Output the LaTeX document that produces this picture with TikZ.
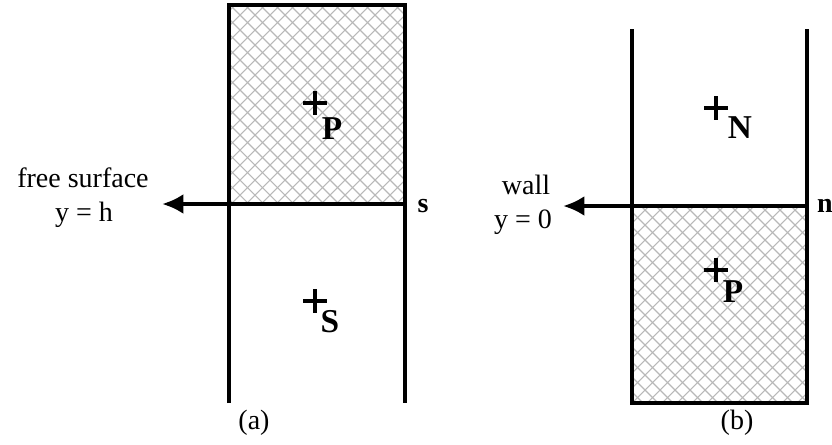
\documentclass[tikz,border=0pt]{standalone}
\usepackage{fontspec}
\setmainfont{Liberation Serif}
\usetikzlibrary{arrows.meta}

\begin{document}
\begin{tikzpicture}[
    x=0.75pt,
    y=-0.75pt,
    line join=miter
]

\definecolor{HatchGray}{HTML}{B8B8B8}

\tikzset{
    wall line/.style={
        draw=black,
        line width=3pt
    },
    axis arrow/.style={
        draw=black,
        line width=3.6pt,
        -{Latex[length=16pt,width=15pt]}
    },
    hatch line/.style={
        draw=HatchGray,
        line width=0.8pt
    },
    cross line/.style={
        draw=black,
        line width=3pt
    },
    cell name/.style={
        font=\fontsize{25}{25}\selectfont\bfseries,
        inner sep=0pt
    },
    face name/.style={
        font=\fontsize{21}{21}\selectfont\bfseries,
        inner sep=0pt
    },
    side label/.style={
        font=\fontsize{21}{21}\selectfont,
        inner sep=0pt
    }
}

\useasboundingbox (0,0) rectangle (832,444);

% corners of the two cells
\coordinate (a-tl) at (229,5);
\coordinate (a-tr) at (405,5);
\coordinate (a-ml) at (229,204);
\coordinate (a-mr) at (405,204);
\coordinate (a-bl) at (229,403);
\coordinate (a-br) at (405,403);
\coordinate (a-tip) at (162,204);

\coordinate (b-tl) at (632,29);
\coordinate (b-tr) at (807,29);
\coordinate (b-ml) at (632,206);
\coordinate (b-mr) at (807,206);
\coordinate (b-bl) at (632,403);
\coordinate (b-br) at (807,403);
\coordinate (b-tip) at (563,206);

% hatched halves
\begin{scope}
    \clip (a-tl) rectangle (a-mr);
    \foreach \k in {0,15,...,1215} {
        \draw[hatch line] (\k,0) -- ++(450,450);
        \draw[hatch line] (\k,0) -- ++(-450,450);
    }
\end{scope}
\begin{scope}
    \clip (b-ml) rectangle (b-br);
    \foreach \k in {0,15,...,1215} {
        \draw[hatch line] (\k,0) -- ++(450,450);
        \draw[hatch line] (\k,0) -- ++(-450,450);
    }
\end{scope}

% walls
\draw[wall line] (a-bl) -- (a-tl) -- (a-tr) -- (a-br);
\draw[wall line] (b-tl) -- (b-bl) -- (b-br) -- (b-tr);

\draw[axis arrow] (a-mr) -- (a-tip);
\draw[axis arrow] (b-mr) -- (b-tip);

% cell centres
\foreach \cx/\cy/\name in {315/103/cp, 315/301/cs, 716/108/cn, 716/270/cq} {
    \coordinate (\name) at (\cx,\cy);
    \draw[cross line] (\name) ++(-12,0) -- ++(24,0) (\name) ++(0,-12) -- ++(0,24);
}

\node[cell name] (lp) at (332,129) {P};
\node[cell name] (ls) at (330,322) {S};
\node[cell name] (ln) at (740,128) {N};
\node[cell name] (lq) at (733,292) {P};

\node[face name] (fs-s) at (423,206) {s};
\node[face name] (fs-n) at (825,206) {n};

\node[side label] (free) at (83,178) {free surface};
\node[side label] (yh) at (84,215) {y = h};
\node[side label] (wall) at (526,185) {wall};
\node[side label] (y0) at (523,222) {y = 0};

\node[side label] (capa) at (254,423) {(a)};
\node[side label] (capb) at (737,423) {(b)};

\end{tikzpicture}
\end{document}
